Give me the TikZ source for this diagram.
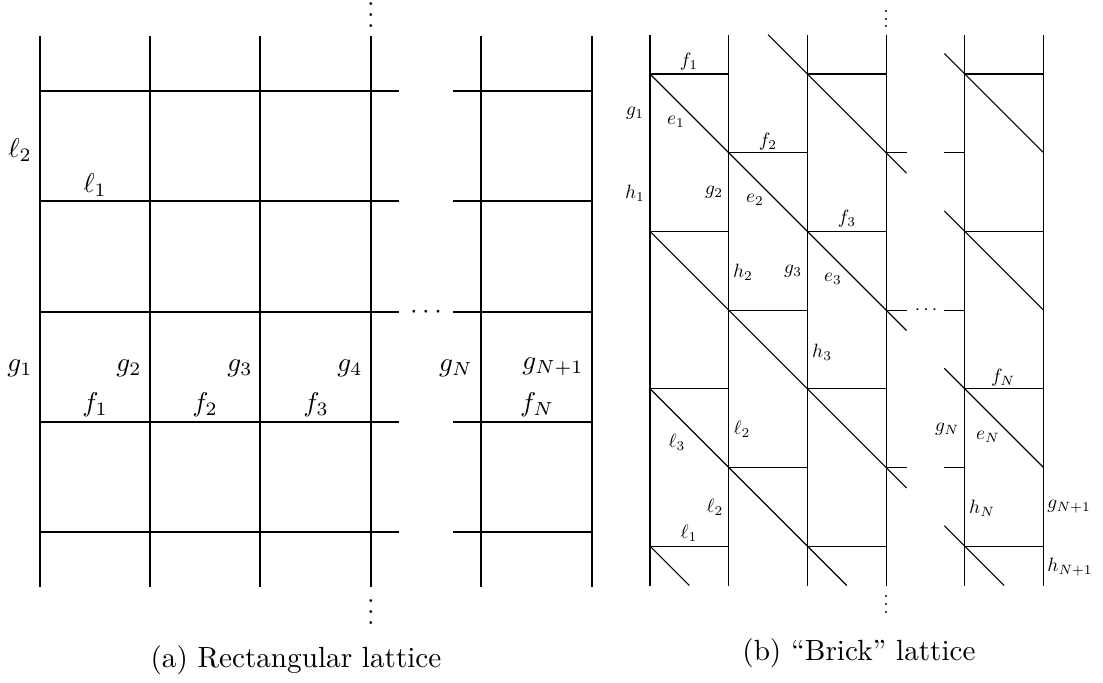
\documentclass[tikz,border=0pt]{standalone}
\newcommand\myvdots{\vbox{\baselineskip4pt \lineskiplimit0pt \hbox{.}\hbox{.}\hbox{.}}}
\begin{document}
\begin{tikzpicture}[x=0.3425pt,y=-0.3425pt,
  biglab/.style={inner sep=0pt, scale=0.93},
  smalllab/.style={inner sep=0pt, scale=0.66},
  bigdots/.style={inner sep=0pt, anchor=base, scale=0.93},
  smalldots/.style={inner sep=0pt, anchor=base, scale=0.66},
  lattice/.style={line width=0.38pt, black}]
\path[use as bounding box] (0,0) rectangle (1103,682);
% ---------------- (a) rectangular lattice
\foreach \x in {40,150,260,371,481,592} \draw[lattice] (\x,36) -- (\x,587);
\foreach \y in {91,201,312,422,532} {
  \draw[lattice] (40,\y) -- (399,\y);
  \draw[lattice] (453,\y) -- (592,\y);
}
\node[bigdots] (atopdots) at (371,27.5) {\myvdots};
\node[bigdots] (abotdots) at (371,624.5) {\myvdots};
\node[bigdots] (ahdots) at (426,318.8) {$\cdots$};
\node[biglab] (al2) at (20,150) {$\ell_2$};
\node[biglab] (al1) at (95,185) {$\ell_1$};
\node[biglab] (ag1) at (20,368) {$g_1$};
\node[biglab] (ag2) at (129,368) {$g_2$};
\node[biglab] (ag3) at (240,368) {$g_3$};
\node[biglab] (ag4) at (350,368) {$g_4$};
\node[biglab] (agN) at (456,368) {$g_N$};
\node[biglab] (agN1) at (553,367) {$g_{N+1}$};
\node[biglab] (af1) at (95,405) {$f_1$};
\node[biglab] (af2) at (205,405) {$f_2$};
\node[biglab] (af3) at (316,405) {$f_3$};
\node[biglab] (afN) at (537,405) {$f_N$};
\node[inner sep=0pt] (capa) at (296,660) {(a) Rectangular lattice};
% ---------------- (b) brick lattice
\begin{scope}[xshift=222.625pt, yshift=-25.345pt, x=26.954pt, y=-26.954pt]
  \foreach \i in {0,...,5} \draw[lattice] (\i,-0.5) -- (\i,6.5);
  \foreach \k in {0,2,4,6} {
    \draw[lattice] (0,\k) -- (1,\k);
    \draw[lattice] (2,\k) -- (3,\k);
    \draw[lattice] (4,\k) -- (5,\k);
  }
  \foreach \k in {1,3,5} {
    \draw[lattice] (1,\k) -- (2,\k);
    \draw[lattice] (3,\k) -- (3.26,\k);
    \draw[lattice] (3.74,\k) -- (4,\k);
  }
  % diagonals, left block
  \draw[lattice] (1.5,-0.5) -- (3.26,1.26);
  \draw[lattice] (0,0) -- (3.26,3.26);
  \draw[lattice] (0,2) -- (3.26,5.26);
  \draw[lattice] (0,4) -- (2.5,6.5);
  \draw[lattice] (0,6) -- (0.5,6.5);
  % diagonals, right block
  \draw[lattice] (3.74,-0.26) -- (5,1);
  \draw[lattice] (3.74,1.74) -- (5,3);
  \draw[lattice] (3.74,3.74) -- (5,5);
  \draw[lattice] (3.74,5.74) -- (4.5,6.5);
\end{scope}
\node[smalldots] (btopdots) at (886,28) {\myvdots};
\node[smalldots] (bbotdots) at (886,613) {\myvdots};
\node[smalldots] (bhdots) at (926,314.8) {$\cdots$};
\node[smalllab] (bf1) at (689,62) {$f_1$};
\node[smalllab] (bg1) at (635,113) {$g_1$};
\node[smalllab] (be1) at (676,122) {$e_1$};
\node[smalllab] (bf2) at (768,142) {$f_2$};
\node[smalllab] (bh1) at (635,193) {$h_1$};
\node[smalllab] (bg2) at (714,192) {$g_2$};
\node[smalllab] (be2) at (755,200) {$e_2$};
\node[smalllab] (bf3) at (847,219) {$f_3$};
\node[smalllab] (bh2) at (743,272) {$h_2$};
\node[smalllab] (bg3) at (793,271) {$g_3$};
\node[smalllab] (be3) at (833,279) {$e_3$};
\node[smalllab] (bh3) at (822,352) {$h_3$};
\node[smalllab] (bl2a) at (742,429) {$\ell_2$};
\node[smalllab] (bl3) at (677,442) {$\ell_3$};
\node[smalllab] (bl2b) at (715,507) {$\ell_2$};
\node[smalllab] (bl1) at (689,533) {$\ell_1$};
\node[smalllab] (bfN) at (1003,378) {$f_N$};
\node[smalllab] (bgN) at (947,429) {$g_N$};
\node[smalllab] (beN) at (988,437) {$e_N$};
\node[smalllab] (bhN) at (982,508) {$h_N$};
\node[smalllab] (bgN1) at (1069,507) {$g_{N+1}$};
\node[smalllab] (bhN1) at (1070,567) {$h_{N+1}$};
\node[inner sep=0pt] (capb) at (859,653) {(b) ``Brick'' lattice};
\end{tikzpicture}
\end{document}
